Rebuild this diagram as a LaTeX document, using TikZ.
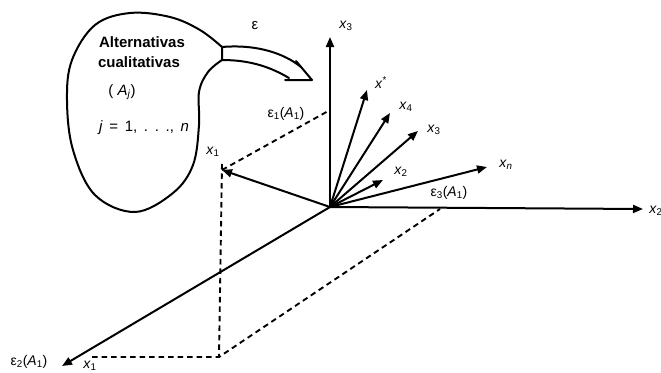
\documentclass[tikz,border=0pt]{standalone}
\usepackage{fontspec}
\setmainfont{Liberation Sans}
\usetikzlibrary{arrows.meta}
\newcommand\axlab[1]{\textit{x}\textsubscript{#1}}
\newcommand\eplab[1]{ε\textsubscript{#1}(\textit{A}\textsubscript{1})}
\begin{document}
\begin{tikzpicture}[x=1pt,y=-1pt,
  ink/.style={line width=2pt, line cap=round, line join=round},
  vec/.style={ink, line cap=butt, -{Triangle[length=10pt,width=8pt]}},
  guide/.style={line width=1.9pt, dash pattern=on 5.5pt off 4pt},
  lbl/.style={inner sep=0pt, font=\fontsize{14}{14}\selectfont},
  blobtext/.style={inner sep=0pt, font=\fontsize{15}{15}\selectfont\bfseries}]
\useasboundingbox (0,0) rectangle (661,372);

% points of the coordinate system
\coordinate (O)  at (330,207);
\coordinate (X3) at (330,37);
\coordinate (X2) at (643,209);
\coordinate (X1) at (62,366);
\coordinate (P1) at (222,170);
\coordinate (E1) at (330,110);
\coordinate (E3) at (440,209);
\coordinate (F)  at (219,357);
\coordinate (E2) at (92,357);
\coordinate (Ps) at (367,90);
\coordinate (P4) at (390,113);
\coordinate (P3) at (418,131);
\coordinate (P2) at (383,180);
\coordinate (Pn) at (487,167);

% projection guides
\draw[guide] (P1) -- (E1);
\draw[guide] ([yshift=6pt]P1) -- (F);
\draw[guide] (E2) -- (F) -- (E3);

% axes
\draw[vec] (O) -- (X3);
\draw[vec] (O) -- (X2);
\draw[vec] (O) -- (X1);

% vectors
\draw[vec] (O) -- (P1);
\draw[vec] (O) -- (Ps);
\draw[vec] (O) -- (P4);
\draw[vec] (O) -- (P3);
\draw[vec] (O) -- (P2);
\draw[vec] (O) -- (Pn);

% axis labels
\node[lbl] (lx3) at (346,26) {\axlab{3}};
\node[lbl] (lx2) at (656,211) {\axlab{2}};
\node[lbl] (lx1) at (90,366) {\axlab{1}};
\node[lbl] (le2) at (29,362) {\eplab{2}};
\node[lbl] (le1) at (286,114) {\eplab{1}};
\node[lbl] (le3) at (449,193) {\eplab{3}};

% vector labels
\node[lbl] (lp1) at (213,152) {\axlab{1}};
\node[lbl] (lps) at (381,83) {\textit{x}\textsuperscript{*}};
\node[lbl] (lp4) at (406,107) {\axlab{4}};
\node[lbl] (lp3) at (434,130) {\axlab{3}};
\node[lbl] (lp2) at (401,172) {\axlab{2}};
\node[lbl] (lpn) at (506,165) {\axlab{\textit{n}}};

% set of qualitative alternatives
\draw[ink] plot[smooth, tension=0.6] coordinates {(222,60) (208,72) (199,92) (199,125) (193,165) (173,193) (135,212) (95,195) (73,150) (67,100) (72,60) (95,25) (130,13) (170,17) (200,30) (222,47)} -- cycle;
\node[blobtext] (t1) at (142,42) {Alternativas};
\node[blobtext] (t2) at (139,62) {cualitativas};
\node[lbl, font=\fontsize{15}{15}\selectfont] (t3) at (122,92) {( \textit{A}\textsubscript{\textit{j}})};
\node[lbl, font=\fontsize{15}{15}\selectfont] (t4) at (144,128) {\textit{j}\ \,=\ \,1,\ \,.\ \,.\ \,.,\ \,\textit{n}};

% mapping arrow
\draw[ink] (222,47) .. controls (258,44) and (285,54) .. (301,67);
\draw[ink] (222,60) .. controls (252,60) and (272,68) .. (289,78);
\draw[ink] (296,61) -- (312,80) -- (285,80);
\node[lbl, font=\fontsize{15}{15}\selectfont] (leps) at (255,26) {ε};
\end{tikzpicture}
\end{document}
